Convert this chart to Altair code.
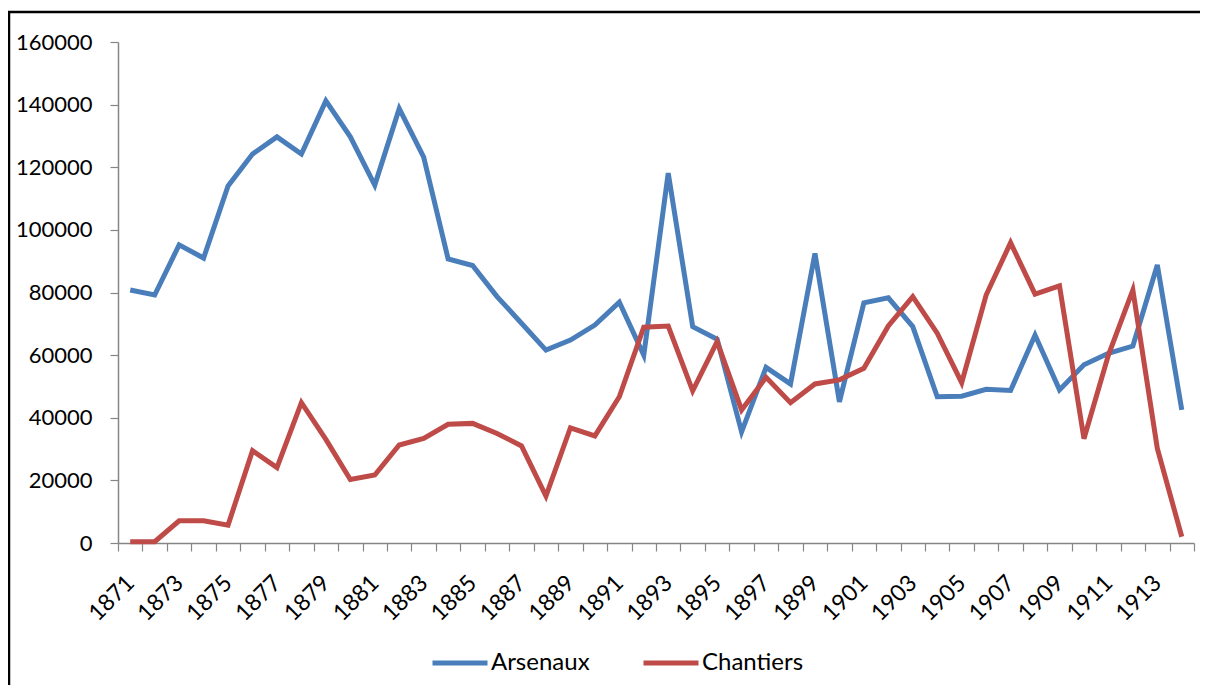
import altair as alt
import pandas as pd

years = [str(y) for y in range(1871, 1915)]
arsenaux = [80800, 79200, 95200, 91000, 114000, 124200, 129700, 124200, 141200, 129700,
            114300, 138700, 123200, 90700, 88600, 78700, 70200, 61600, 64800, 69600,
            76900, 60000, 118100, 69100, 65100, 35500, 56100, 50800, 92500, 45100,
            76700, 78300, 69100, 46700, 46900, 49100, 48700, 66400, 48900, 56900,
            60600, 62900, 88800, 42500]
chantiers = [400, 400, 7100, 7100, 5700, 29500, 24100, 44800, 33100, 20300,
             21700, 31300, 33400, 37900, 38200, 35000, 31000, 15000, 36800, 34200,
             46700, 68900, 69300, 48600, 64300, 42500, 52900, 44800, 50800, 52100,
             55800, 69300, 78700, 67000, 51200, 79200, 95900, 79500, 82100, 33300,
             60000, 80800, 30200, 2000]
series_names = ["Arsenaux", "Chantiers"]
series_colors = ["#4A7EBB", "#BE4B48"]
y_ticks = [0, 20000, 40000, 60000, 80000, 100000, 120000, 140000, 160000]

rows = []
for i, yr in enumerate(years):
    rows.append({"year": yr, "serie": "Arsenaux", "value": arsenaux[i], "order": 0})
    rows.append({"year": yr, "serie": "Chantiers", "value": chantiers[i], "order": 1})
df = pd.DataFrame(rows)

FONT = "Lato"

lines = alt.Chart(df).mark_line(strokeWidth=5, strokeJoin="miter").encode(
    x=alt.X("year:O", bandPosition=0.5, sort=years,
            scale=alt.Scale(type="band", paddingInner=0, paddingOuter=0),
            axis=alt.Axis(title=None, tickBand="extent", labelAngle=-45,
                          labelAlign="right", labelBaseline="middle",
                          labelExpr="toNumber(datum.value) % 2 == 1 ? datum.label : ''",
                          labelOverlap=False, labelFont=FONT, labelFontSize=23,
                          labelColor="#000000", labelPadding=28, tickSize=8,
                          tickColor="#868686", domainColor="#868686",
                          tickWidth=1.2, domainWidth=1.5)),
    y=alt.Y("value:Q", scale=alt.Scale(domain=[0, 160000], nice=False),
            axis=alt.Axis(title=None, values=y_ticks, format="d", grid=False,
                          labelFont=FONT, labelFontSize=22, labelColor="#000000",
                          tickSize=8, labelPadding=18, tickColor="#868686",
                          domainColor="#868686", tickWidth=1.2, domainWidth=1.5)),
    color=alt.Color("serie:N", scale=alt.Scale(domain=series_names, range=series_colors),
                    legend=alt.Legend(title=None, orient="none", direction="horizontal",
                                      legendX=312, legendY=591,
                                      symbolType="stroke", symbolSize=3025,
                                      symbolStrokeWidth=5, labelFont=FONT,
                                      labelFontSize=24, labelColor="#000000",
                                      labelOffset=1, columnPadding=43)),
    order="order:Q",
)

base1 = alt.Chart(df).transform_filter("datum.year == '1871' && datum.serie == 'Arsenaux'")
frame_left = base1.mark_rule(stroke="#000000", strokeWidth=2.5).encode(
    x=alt.value(-109), y=alt.value(-31), y2=alt.value(700)
)
frame_top = base1.mark_rule(stroke="#000000", strokeWidth=2.5).encode(
    x=alt.value(-110), x2=alt.value(1082), y=alt.value(-30)
)

chart = alt.layer(frame_left, frame_top, lines).properties(
    width=1076, height=501,
    autosize=alt.AutoSizeParams(type="none"),
    padding={"left": 110, "top": 34, "right": 7, "bottom": 142},
    background="white",
).configure_view(stroke=None)

chart.save("out.html", embed_options={"renderer": "svg", "actions": False})
